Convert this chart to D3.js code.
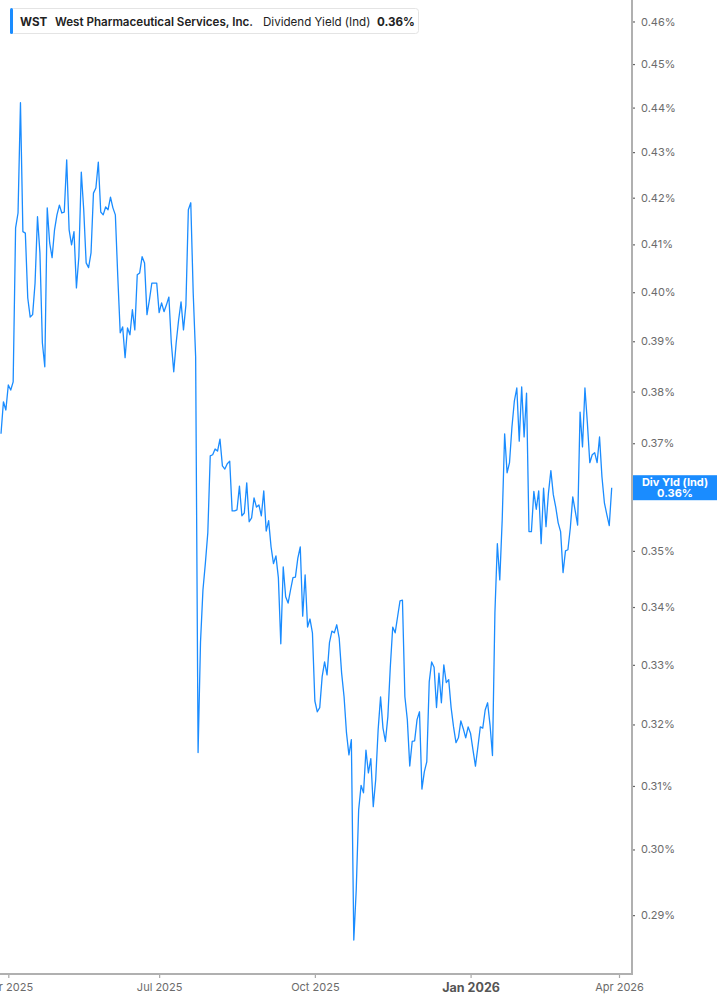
<!DOCTYPE html>
<html>
<head>
<meta charset="utf-8">
<script src="https://cdn.jsdelivr.net/npm/d3@7"></script>
<style>
  body { margin: 0; background: #fff; }
  svg { display: block; font-family: Inter, "Noto Sans", sans-serif; }
</style>
</head>
<body>
<svg id="chart" width="717" height="1005"></svg>
<script>
// trading calendar (first and last day drawn on the x axis)
var firstDay = "2025-03-27", lastDay = "2026-04-01";
var holidays = ["2025-04-18", "2025-05-26", "2025-06-19", "2025-07-04", "2025-09-01",
                "2025-11-27", "2025-12-25", "2026-01-01", "2026-01-19", "2026-02-16"];
var tickMonths = ["2025-04", "2025-07", "2025-10", "2026-01", "2026-04"];
var tickLabels = ["Apr 2025", "Jul 2025", "Oct 2025", "Jan 2026", "Apr 2026"];
var yTicks = [0.29, 0.30, 0.31, 0.32, 0.33, 0.34, 0.35, 0.36, 0.37, 0.38, 0.39, 0.40,
              0.41, 0.42, 0.43, 0.44, 0.45, 0.46];

// daily dividend yield (%), one value per trading day from firstDay
var yieldValues = [
  .3718,.3780,.3764,.3813,.3803,.3819,.4135,.4167,.4411,.4127,
  .4124,.3988,.3949,.3954,.4019,.4159,.4082,.3897,.3849,.4178,
  .4103,.4072,.4131,.4163,.4184,.4167,.4169,.4283,.4131,.4099,
  .4127,.4009,.4074,.4256,.4174,.4061,.4051,.4082,.4210,.4221,
  .4278,.4169,.4163,.4180,.4174,.4201,.4178,.4163,.4032,.3917,
  .3929,.3867,.3927,.3913,.3964,.3923,.4036,.4040,.4074,.4061,
  .3954,.3984,.4019,.4019,.4019,.3958,.3978,.3960,.3974,.3990,
  .3897,.3839,.3897,.3943,.3980,.3923,.3974,.4174,.4189,.3998,
  .3869,.3154,.3339,.3430,.3478,.3533,.3676,.3678,.3689,.3685,
  .3708,.3657,.3651,.3661,.3666,.3573,.3573,.3575,.3619,.3564,
  .3569,.3625,.3553,.3560,.3597,.3580,.3584,.3564,.3610,.3536,
  .3555,.3507,.3477,.3491,.3452,.3336,.3471,.3418,.3407,.3430,
  .3452,.3453,.3487,.3507,.3384,.3457,.3365,.3379,.3355,.3239,
  .3221,.3228,.3280,.3305,.3283,.3338,.3358,.3355,.3369,.3346,
  .3286,.3246,.3186,.3150,.3175,.2863,.2938,.3062,.3101,.3089,
  .3158,.3121,.3144,.3067,.3110,.3191,.3246,.3194,.3172,.3213,
  .3296,.3365,.3355,.3383,.3411,.3412,.3246,.3208,.3132,.3172,
  .3173,.3208,.3221,.3095,.3123,.3139,.3271,.3305,.3296,.3228,
  .3286,.3236,.3300,.3270,.3275,.3228,.3196,.3170,.3178,.3206,
  .3193,.3178,.3196,.3185,.3158,.3132,.3163,.3196,.3194,.3224,
  .3236,.3199,.3149,.3390,.3513,.3448,.3557,.3718,.3644,.3663,
  .3731,.3782,.3807,.3704,.3809,.3712,.3797,.3535,.3535,.3609,
  .3576,.3610,.3513,.3615,.3544,.3606,.3648,.3603,.3580,.3551,
  .3535,.3461,.3500,.3502,.3542,.3599,.3573,.3547,.3760,.3693,
  .3807,.3739,.3663,.3678,.3682,.3663,.3712,.3636,.3588,.3566,
  .3546,.3616
];

var blue = "#1a8cff";
var axisX = 632, axisY = 974;

var fmtDay = d3.utcFormat("%Y-%m-%d"), fmtMonth = d3.utcFormat("%Y-%m");
var days = d3.utcDay.range(new Date(firstDay), d3.utcDay.offset(new Date(lastDay), 1))
  .filter(function(d) {
    var wd = d.getUTCDay();
    return wd != 0 && wd != 6 && holidays.indexOf(fmtDay(d)) < 0;
  });
var tickIdx = tickMonths.map(function(m) {
  return days.findIndex(function(d) { return fmtMonth(d) == m; });
});

var x = d3.scaleLinear().domain([0, days.length - 1]).range([1, 619]);
var y = d3.scaleLog().domain([0.28132, 0.46513]).range([axisY, 0]);

var svg = d3.select("#chart");

// x axis
var gx = svg.append("g")
  .attr("transform", "translate(0," + axisY + ")")
  .call(d3.axisBottom(x).tickValues(tickIdx).tickSize(4).tickPadding(5)
    .tickFormat(function(d, i) { return tickLabels[i]; }));
gx.select(".domain").remove();
gx.selectAll(".tick line").attr("stroke", "#a8a8a8").attr("stroke-width", 1.2);
gx.selectAll(".tick text")
  .attr("fill", "#6b6b6b").style("font-size", "11px").style("font-family", "Inter, sans-serif")
  .filter(function(d, i) { return tickLabels[i] == "Jan 2026"; })
  .attr("fill", "#555").style("font-size", "12.5px").style("font-weight", "700");

// y axis on the right
var gy = svg.append("g")
  .attr("transform", "translate(" + axisX + ",0)")
  .call(d3.axisRight(y).tickValues(yTicks).tickSize(3).tickPadding(6)
    .tickFormat(function(d) { return d.toFixed(2) + "%"; }));
gy.select(".domain").remove();
gy.selectAll(".tick line").attr("stroke", "#666").attr("stroke-width", 1.2);
gy.selectAll(".tick text")
  .attr("fill", "#6b6b6b").style("font-size", "11px").style("font-family", "Inter, sans-serif");

svg.append("line").attr("x1", 0).attr("x2", axisX + 1).attr("y1", axisY).attr("y2", axisY)
  .attr("stroke", "#b0b0b0").attr("stroke-width", 2);
svg.append("line").attr("x1", axisX).attr("x2", axisX).attr("y1", 0).attr("y2", axisY + 1)
  .attr("stroke", "#b0b0b0").attr("stroke-width", 2);

// yield line
var line = d3.line()
  .x(function(d, i) { return x(i); })
  .y(function(d) { return y(d); });
svg.append("path")
  .datum(yieldValues)
  .attr("d", line)
  .attr("fill", "none")
  .attr("stroke", blue)
  .attr("stroke-width", 1.3)
  .attr("stroke-linejoin", "round");

// last value badge
var last = yieldValues[yieldValues.length - 1];
var by = y(last);
svg.append("rect").attr("x", axisX + 1).attr("y", by - 12.5).attr("width", 717 - axisX).attr("height", 25)
  .attr("fill", blue);
svg.append("text").attr("x", 675).attr("y", by - 2).attr("text-anchor", "middle")
  .attr("fill", "#fff").style("font-size", "11px").style("font-weight", "700")
  .text("Div Yld (Ind)");
svg.append("text").attr("x", 675).attr("y", by + 9.5).attr("text-anchor", "middle")
  .attr("fill", "#fff").style("font-size", "11px").style("font-weight", "700")
  .text(last.toFixed(2) + "%");

// legend box
var legend = svg.append("g");
legend.append("rect").attr("x", 10.5).attr("y", 8.5).attr("width", 408).attr("height", 25).attr("rx", 3)
  .attr("fill", "#fff").attr("stroke", "#e4e4e4");
legend.append("rect").attr("x", 10).attr("y", 8).attr("width", 3).attr("height", 26).attr("rx", 1.5)
  .attr("fill", blue);
var legendItems = [
  {x: 20, text: "WST", w: 700},
  {x: 55, text: "West Pharmaceutical Services, Inc.", w: 600},
  {x: 263, text: "Dividend Yield (Ind)", w: 400},
  {x: 377, text: last.toFixed(2) + "%", w: 700}
];
legend.selectAll("text.item").data(legendItems).enter().append("text")
  .attr("class", "item")
  .attr("x", function(d) { return d.x; })
  .attr("y", 25.5)
  .attr("fill", "#222")
  .style("font-size", "11.6px")
  .style("font-weight", function(d) { return d.w; })
  .text(function(d) { return d.text; });
</script>
</body>
</html>
